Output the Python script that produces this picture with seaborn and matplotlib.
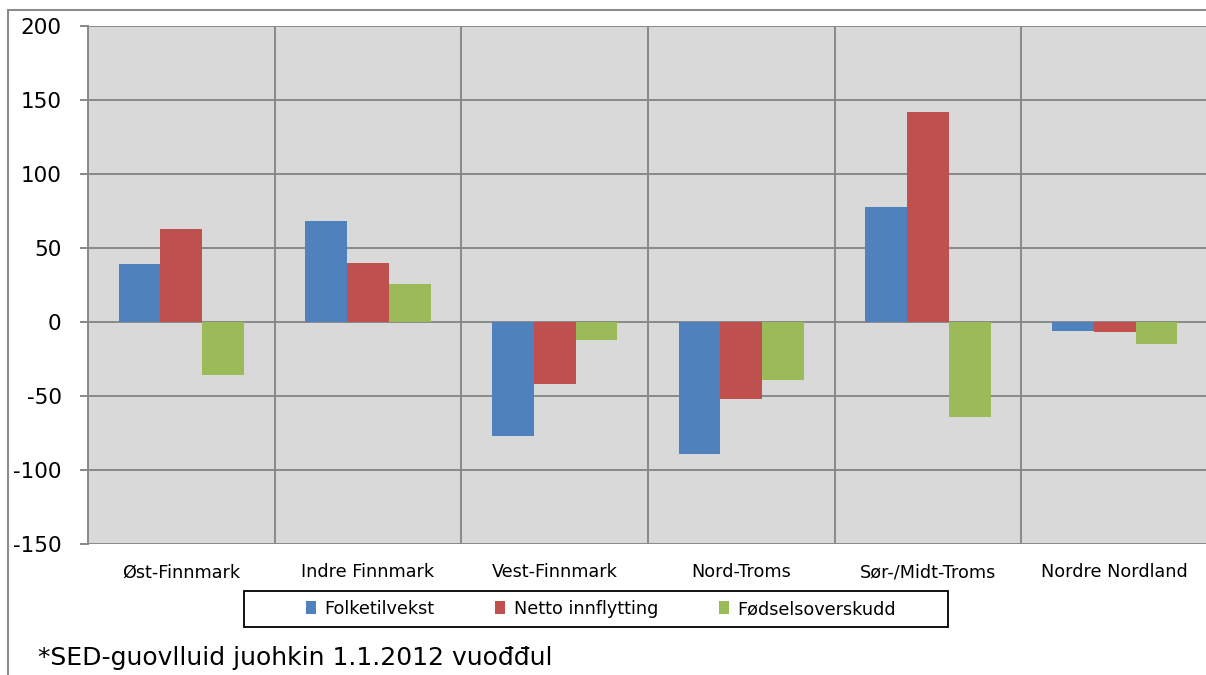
import numpy as np
import pandas as pd
import matplotlib
matplotlib.use("Agg")
import matplotlib.pyplot as plt
from matplotlib.patches import Rectangle
import seaborn as sns

regions = ["Øst-Finnmark", "Indre Finnmark", "Vest-Finnmark", "Nord-Troms",
           "Sør-/Midt-Troms", "Nordre Nordland"]
series = ["Folketilvekst", "Netto innflytting", "Fødselsoverskudd"]
folketilvekst = [39, 68, -77, -89, 78, -6]
netto_innflytting = [63, 40, -42, -52, 142, -7]
fodselsoverskudd = [-36, 26, -12, -39, -64, -15]
colors = ["#4F81BD", "#C0504D", "#9BBB59"]
y_ticks = [-150, -100, -50, 0, 50, 100, 150, 200]
footnote = "*SED-guovlluid juohkin 1.1.2012 vuođđul"

df = pd.DataFrame({
    "region": regions * 3,
    "series": [series[0]] * 6 + [series[1]] * 6 + [series[2]] * 6,
    "value": folketilvekst + netto_innflytting + fodselsoverskudd,
})

sns.set_theme(style="white")
plt.rcParams["font.family"] = ["DejaVu Sans"]

W, H = 1206, 675
fig = plt.figure(figsize=(W / 100, H / 100), dpi=100)
fig.patch.set_facecolor("white")

ax = fig.add_axes([88 / W, (H - 544) / H, 1120 / W, 518 / H])
ax.set_facecolor("#D9D9D9")

sns.barplot(data=df, x="region", y="value", hue="series", order=regions,
            hue_order=series, palette=colors, width=0.67, gap=0,
            saturation=1, ax=ax, legend=False, errorbar=None,
            edgecolor="none", linewidth=0)

grid_c = "#898989"
ax.set_xlim(-0.5, 5.5)
ax.set_ylim(-150, 200)
ax.set_yticks(y_ticks)
ax.set_yticklabels([str(v) for v in y_ticks], fontsize=15.5, color="black")
ax.set_xticks(range(len(regions)))
ax.set_xticklabels(regions, fontsize=12.7, color="black")
ax.set_xticks(np.arange(-0.5, 6.0, 1.0), minor=True)
ax.set_xlabel("")
ax.set_ylabel("")
ax.grid(True, axis="y", which="major", color=grid_c, linewidth=1.4)
ax.grid(True, axis="x", which="minor", color=grid_c, linewidth=1.4)
ax.grid(False, axis="x", which="major")
ax.set_axisbelow(True)
ax.tick_params(axis="y", which="major", length=6, width=1.4, color=grid_c,
               pad=13, left=True)
ax.tick_params(axis="x", which="major", length=0, pad=14)
ax.tick_params(axis="x", which="minor", length=0)
for side in ["top", "right", "bottom"]:
    ax.spines[side].set_visible(False)
ax.spines["left"].set_color(grid_c)
ax.spines["left"].set_linewidth(1.4)

# outer chart frame
fig.patches.append(Rectangle((8 / W, -0.1), 1.2, (H - 10) / H + 0.1,
                             transform=fig.transFigure, fill=False,
                             edgecolor="#8C8C8C", linewidth=1.5))

# legend frame
fig.patches.append(Rectangle((244 / W, (H - 627) / H), (948 - 244) / W, 36 / H,
                             transform=fig.transFigure, fill=False,
                             edgecolor="black", linewidth=1.3))
handles = [Rectangle((0, 0), 1, 1, facecolor=c, edgecolor="none") for c in colors]
fig.legend(handles, series, loc="center", bbox_to_anchor=(601 / W, (H - 609) / H),
           ncol=3, frameon=False, fontsize=12.7, handlelength=0.55,
           handleheight=0.75, handletextpad=0.5, columnspacing=3.45,
           borderpad=0, borderaxespad=0, labelcolor="black")

fig.text(38 / W, (H - 658) / H, footnote, fontsize=18, ha="left", va="center",
         color="black")

fig.savefig("out.png", dpi=100)
